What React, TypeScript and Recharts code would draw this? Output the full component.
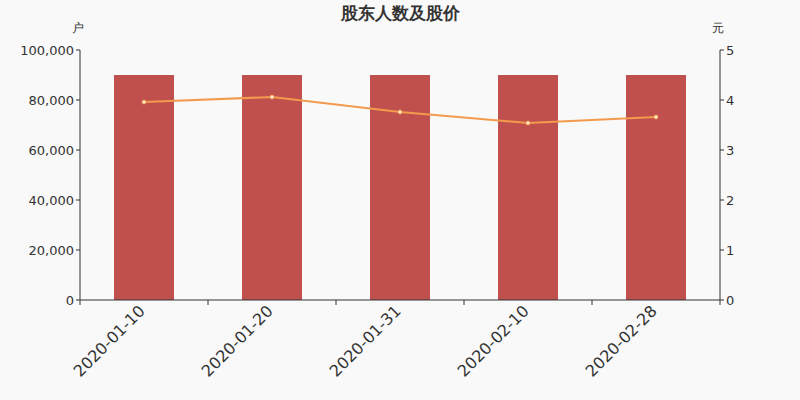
import React from "react";
import {
  Bar,
  ComposedChart,
  Line,
  XAxis,
  YAxis,
} from "recharts";

const dates = ["2020-01-10", "2020-01-20", "2020-01-31", "2020-02-10", "2020-02-28"];
const holders = [90000, 90000, 90000, 90000, 90000];
const prices = [3.96, 4.06, 3.76, 3.54, 3.66];
const holderTicks = [0, 20000, 40000, 60000, 80000, 100000];
const priceTicks = [0, 1, 2, 3, 4, 5];

const data = dates.map((name, i) => ({ name, holders: holders[i], price: prices[i] }));

const axisColor = "#333";
const font = "'DejaVu Sans', sans-serif";
// half of one category band (plot width 640 / 5 categories)
const halfBand = 64;

function DateTick({ x, y, payload, index }: any) {
  return (
    <g>
      <line x1={x - halfBand} y1={y} x2={x - halfBand} y2={y + 5} stroke={axisColor} />
      {index === dates.length - 1 && (
        <line x1={x + halfBand} y1={y} x2={x + halfBand} y2={y + 5} stroke={axisColor} />
      )}
      <text
        x={x + 2}
        y={y + 12}
        transform={`rotate(-45, ${x + 2}, ${y + 12})`}
        textAnchor="end"
        fontSize={16}
        fill="#333"
        fontFamily={font}
      >
        {payload.value}
      </text>
    </g>
  );
}

export default function App() {
  return (
    <div style={{ position: "absolute", left: 0, top: 0, width: 800, height: 400, background: "#f9f9f9", fontFamily: font }}>
      <div style={{ position: "absolute", top: 2, width: 800, textAlign: "center", fontSize: 17, fontWeight: "bold", color: "#333" }}>
        股东人数及股价
      </div>
      <div style={{ position: "absolute", left: 72, top: 20, fontSize: 12, color: "#333" }}>户</div>
      <div style={{ position: "absolute", left: 712, top: 20, fontSize: 12, color: "#333" }}>元</div>
      <ComposedChart width={800} height={400} data={data} margin={{ top: 50, right: 0, left: 0, bottom: 0 }}>
        <XAxis
          dataKey="name"
          height={100}
          tick={<DateTick />}
          tickLine={false}
          tickSize={0}
          tickMargin={0}
          axisLine={{ stroke: axisColor }}
          interval={0}
        />
        <YAxis
          yAxisId="left"
          width={80}
          domain={[0, 100000]}
          ticks={holderTicks}
          tickFormatter={(v) => v.toLocaleString("en-US")}
          tick={{ fontSize: 13, fill: "#333" }}
          tickLine={{ stroke: axisColor }}
          axisLine={{ stroke: axisColor }}
          tickSize={4}
        />
        <YAxis
          yAxisId="right"
          orientation="right"
          width={80}
          domain={[0, 5]}
          ticks={priceTicks}
          tick={{ fontSize: 13, fill: "#333" }}
          tickLine={{ stroke: axisColor }}
          axisLine={{ stroke: axisColor }}
          tickSize={4}
        />
        <Bar yAxisId="left" dataKey="holders" fill="#c0504d" barSize={60} isAnimationActive={false} />
        <Line
          yAxisId="right"
          dataKey="price"
          type="linear"
          stroke="#f29a4e"
          strokeWidth={2}
          dot={{ r: 2, fill: "#fff5e0", stroke: "#f29a4e", strokeWidth: 1 }}
          isAnimationActive={false}
        />
      </ComposedChart>
    </div>
  );
}
